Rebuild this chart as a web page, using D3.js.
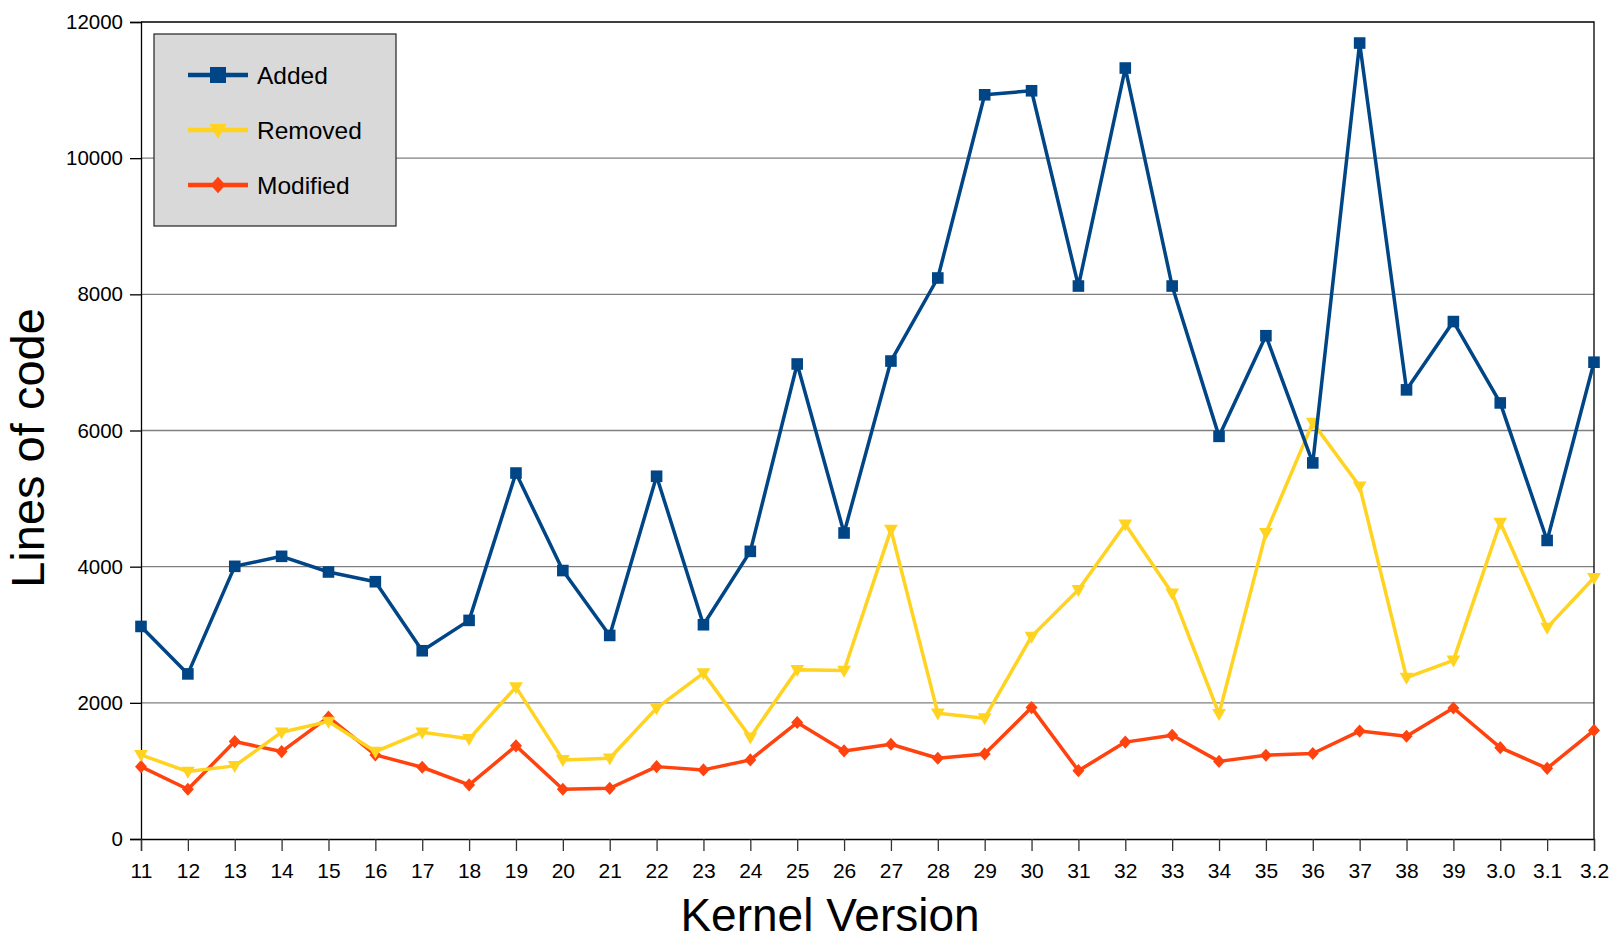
<!DOCTYPE html>
<html>
<head>
<meta charset="utf-8">
<script src="https://cdn.jsdelivr.net/npm/d3@7"></script>
<style>
    body { margin: 0; background: #fff; }
    text { font-family: "Liberation Sans", Arial, sans-serif; fill: #000; }
</style>
</head>
<body>
<div id="chart"></div>
<script>
// kernel versions on the x axis
const versions = ["11","12","13","14","15","16","17","18","19","20","21","22","23","24","25","26",
    "27","28","29","30","31","32","33","34","35","36","37","38","39","3.0","3.1","3.2"];

const added = [3122, 2425, 4005, 4152, 3922, 3779, 2765, 3211, 5375, 3943, 2990, 5328, 3147, 4225, 6977, 4495,
    7020, 8240, 10931, 10990, 8122, 11324, 8122, 5914, 7392, 5524, 11691, 6597, 7600, 6405, 4385, 7003];

const removed = [1235, 990, 1074, 1569, 1725, 1284, 1569, 1471, 2231, 1162, 1186, 1922, 2436, 1495, 2485, 2475,
    4544, 1848, 1775, 2975, 3661, 4623, 3610, 1838, 4496, 6116, 5180, 2370, 2623, 4648, 3104, 3838];

const modified = [1063, 731, 1431, 1284, 1790, 1235, 1054, 794, 1368, 731, 745, 1063, 1015, 1162, 1711, 1294,
    1392, 1186, 1250, 1930, 1003, 1423, 1524, 1140, 1230, 1256, 1585, 1509, 1924, 1342, 1038, 1595];

const yTicks = [0, 2000, 4000, 6000, 8000, 10000, 12000];

class LineChart {
    constructor(parentElement) {
        this.parentElement = parentElement;
        this.series = [
            {name: "Added", values: added, color: "#004586", marker: "square"},
            {name: "Removed", values: removed, color: "#ffd320", marker: "triangle"},
            {name: "Modified", values: modified, color: "#ff420e", marker: "diamond"}
        ];
        this.initVis();
    }

    initVis() {
        let vis = this;

        vis.margin = {top: 22, right: 17, bottom: 101, left: 141};
        vis.width = 1611 - vis.margin.left - vis.margin.right;
        vis.height = 940 - vis.margin.top - vis.margin.bottom;

        vis.svg = d3.select("#" + vis.parentElement).append("svg")
            .attr("width", 1611)
            .attr("height", 940)
            .append("g")
            .attr("transform", "translate(" + vis.margin.left + "," + vis.margin.top + ")");

        vis.x = d3.scalePoint().domain(versions).range([0, vis.width]);
        vis.y = d3.scaleLinear().domain([0, 12000]).range([vis.height, 0]);

        // gridlines
        vis.svg.append("g")
            .selectAll("line")
            .data(yTicks.filter(d => d > 0 && d < 12000))
            .join("line")
            .attr("x1", 0)
            .attr("x2", vis.width)
            .attr("y1", d => vis.y(d))
            .attr("y2", d => vis.y(d))
            .attr("stroke", "#7f7f7f")
            .attr("stroke-width", 1.4);

        // frame top + right
        vis.svg.append("path")
            .attr("d", "M0," + vis.y(12000) + "H" + vis.width + "V" + vis.height)
            .attr("fill", "none")
            .attr("stroke", "#000")
            .attr("stroke-width", 1.3);

        // axes
        vis.yAxis = d3.axisLeft(vis.y).tickValues(yTicks).tickSize(11).tickPadding(7).tickFormat(d3.format("d"));
        vis.xAxis = d3.axisBottom(vis.x).tickSize(12).tickPadding(12);

        let ya = vis.svg.append("g").attr("class", "y-axis").call(vis.yAxis);
        ya.selectAll("text").style("font-size", "20.5px");
        ya.select(".domain").attr("stroke-width", 1.3);
        ya.selectAll(".tick line").attr("stroke-width", 1.3);

        let xa = vis.svg.append("g")
            .attr("class", "x-axis")
            .attr("transform", "translate(0," + vis.height + ")")
            .call(vis.xAxis);
        xa.selectAll("text").style("font-size", "21px");
        xa.select(".domain").attr("stroke-width", 1.3);
        xa.selectAll(".tick line").attr("stroke", "#333").attr("stroke-width", 1.3);
        vis.svg.selectAll(".tick text").attr("fill", "#000");

        // axis titles
        vis.svg.append("text")
            .attr("x", 830 - vis.margin.left)
            .attr("y", 931 - vis.margin.top)
            .attr("text-anchor", "middle")
            .style("font-size", "46px")
            .text("Kernel Version");

        vis.svg.append("text")
            .attr("transform", "translate(" + (44 - vis.margin.left) + "," + (448 - vis.margin.top) + ") rotate(-90)")
            .attr("text-anchor", "middle")
            .style("font-size", "47px")
            .text("Lines of code");

        vis.wrangleData();
    }

    wrangleData() {
        let vis = this;
        vis.displayData = vis.series.map(s => ({
            name: s.name, color: s.color, marker: s.marker,
            points: s.values.map((v, i) => ({version: versions[i], value: v}))
        }));
        vis.updateVis();
    }

    markerPath(type, s) {
        if (type === "square") return "M" + (-s) + "," + (-s) + "h" + 2 * s + "v" + 2 * s + "h" + (-2 * s) + "Z";
        if (type === "triangle") return "M" + (-s * 1.15) + "," + (-s * 0.8) + "H" + (s * 1.15) + "L0," + (s * 1.2) + "Z";
        return "M0," + (-s * 1.1) + "L" + s + ",0L0," + (s * 1.1) + "L" + (-s) + ",0Z";
    }

    updateVis() {
        let vis = this;

        let line = d3.line()
            .x(d => vis.x(d.version))
            .y(d => vis.y(d.value));

        // draw bottom series first so Added sits on top
        let order = vis.displayData.slice().reverse();
        let groups = vis.svg.selectAll(".series")
            .data(order)
            .join("g")
            .attr("class", "series");

        groups.append("path")
            .attr("d", d => line(d.points))
            .attr("fill", "none")
            .attr("stroke", d => d.color)
            .attr("stroke-width", 3.5)
            .attr("stroke-linejoin", "round");

        groups.each(function (s) {
            let size = s.marker === "square" ? 5.8 : 6;
            d3.select(this).selectAll(".marker")
                .data(s.points)
                .join("path")
                .attr("class", "marker")
                .attr("transform", d => "translate(" + vis.x(d.version) + "," + vis.y(d.value) + ")")
                .attr("d", vis.markerPath(s.marker, size))
                .attr("fill", s.color);
        });

        // legend
        let legend = vis.svg.append("g")
            .attr("transform", "translate(" + (154 - vis.margin.left) + "," + (34 - vis.margin.top) + ")");

        legend.append("rect")
            .attr("width", 242)
            .attr("height", 192)
            .attr("fill", "#d9d9d9")
            .attr("stroke", "#222")
            .attr("stroke-width", 1.2);

        let items = legend.selectAll(".item")
            .data(vis.displayData)
            .join("g")
            .attr("class", "item")
            .attr("transform", (d, i) => "translate(0," + (41 + i * 55) + ")");

        items.append("line")
            .attr("x1", 34).attr("x2", 94)
            .attr("stroke", d => d.color)
            .attr("stroke-width", 4.5);

        items.append("path")
            .attr("transform", "translate(64,0)")
            .attr("d", d => vis.markerPath(d.marker, d.marker === "square" ? 8 : 7.5))
            .attr("fill", d => d.color);

        items.append("text")
            .attr("x", 103)
            .attr("y", 8.5)
            .style("font-size", "24.5px")
            .text(d => d.name);
    }
}

new LineChart("chart");
</script>
</body>
</html>
